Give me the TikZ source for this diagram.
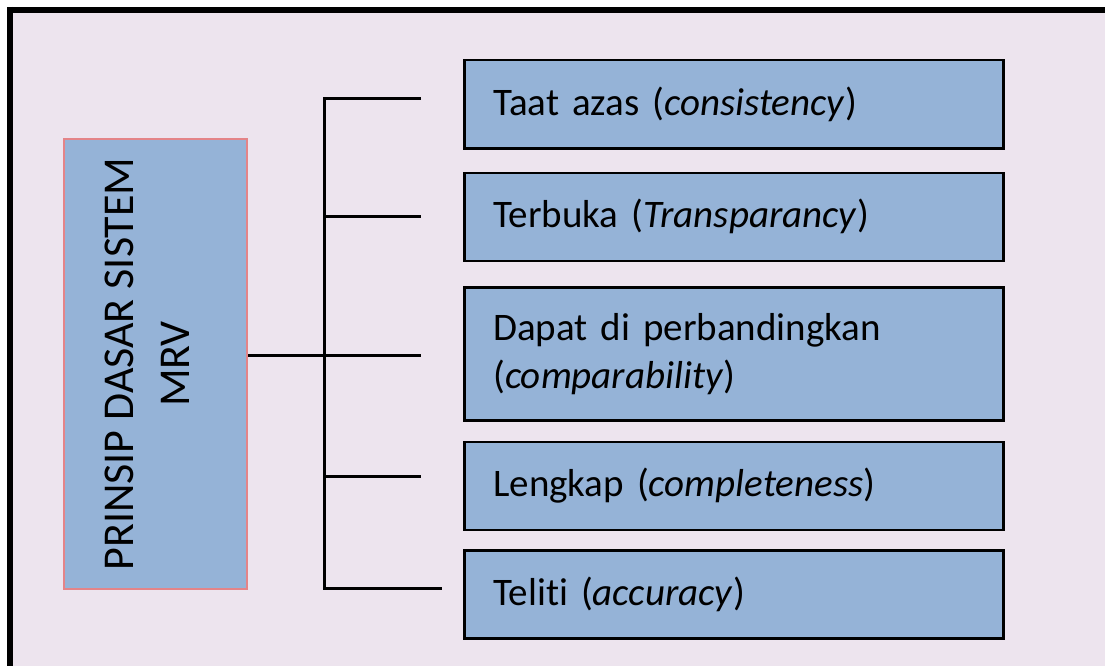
\documentclass[tikz,border=0pt]{standalone}
\usepackage{fontspec}
\setmainfont{Carlito}[Ligatures=NoCommon]
\usepackage{xcolor}
\usepackage{tikz}
\usetikzlibrary{positioning}
\definecolor{bgpink}{RGB}{237,228,238}
\definecolor{boxblue}{RGB}{149,179,215}
\definecolor{rootedge}{RGB}{228,132,136}
\tikzset{
  rootbox/.style={rectangle, draw=rootedge, line width=2pt, fill=boxblue, minimum width=183pt, minimum height=450pt},
  rootlabel/.style={align=center, rotate=90, font=\fontsize{44}{56}\selectfont},
  itembox/.style={rectangle, draw=black, line width=2.5pt, fill=boxblue, text width=481pt, inner xsep=29pt, minimum height=88pt, align=left, font=\fontsize{39}{48}\selectfont},
  link/.style={line width=3pt},
  frame/.style={line width=6pt}
}

\begin{document}
\begin{tikzpicture}[x=1pt, y=-1pt]
% canvas and frame
\useasboundingbox (0,0) rectangle (1105,666);
\fill[white] (0,0) rectangle (1105,666);
\fill[bgpink] (10,10) rectangle (1105,666);
\draw[frame] (10,7) -- (10,666);
\draw[frame] (7,10) -- (1105,10);

% root box
\node[rootbox] (root) at (155.5,364) {};
\node[rootlabel] (rootname) at ([xshift=-8pt]root.center) {PRINSIP DASAR SISTEM\\MRV};

% principle boxes
\node[itembox, anchor=north west] (taat) at (463,59) {Taat azas (\textit{consistency})};
\node[itembox, below=22pt of taat] (terbuka) {Terbuka (\textit{Transparancy})};
\node[itembox, below=24pt of terbuka, minimum height=133pt] (dapat) {Dapat di perbandingkan\\(\textit{comparability})};
\node[itembox, below=19pt of dapat] (lengkap) {Lengkap (\textit{completeness})};
\node[itembox, below=18pt of lengkap] (teliti) {Teliti (\textit{accuracy})};

% tree lines
\coordinate (j1) at (324,99);
\coordinate (j2) at (324,216);
\coordinate (j3) at (324,355);
\coordinate (j4) at (324,476);
\coordinate (j5) at (324,588);
\coordinate (e1) at (421,99);
\coordinate (e2) at (421,216);
\coordinate (e3) at (421,355);
\coordinate (e4) at (421,476);
\coordinate (e5) at (442,588);

\draw[link] (e1) -- (j1) -- (j5) -- (e5);
\draw[link] (j2) -- (e2);
\draw[link] (j4) -- (e4);
\draw[link] (root.east |- j3) -- (e3);
\end{tikzpicture}
\end{document}
